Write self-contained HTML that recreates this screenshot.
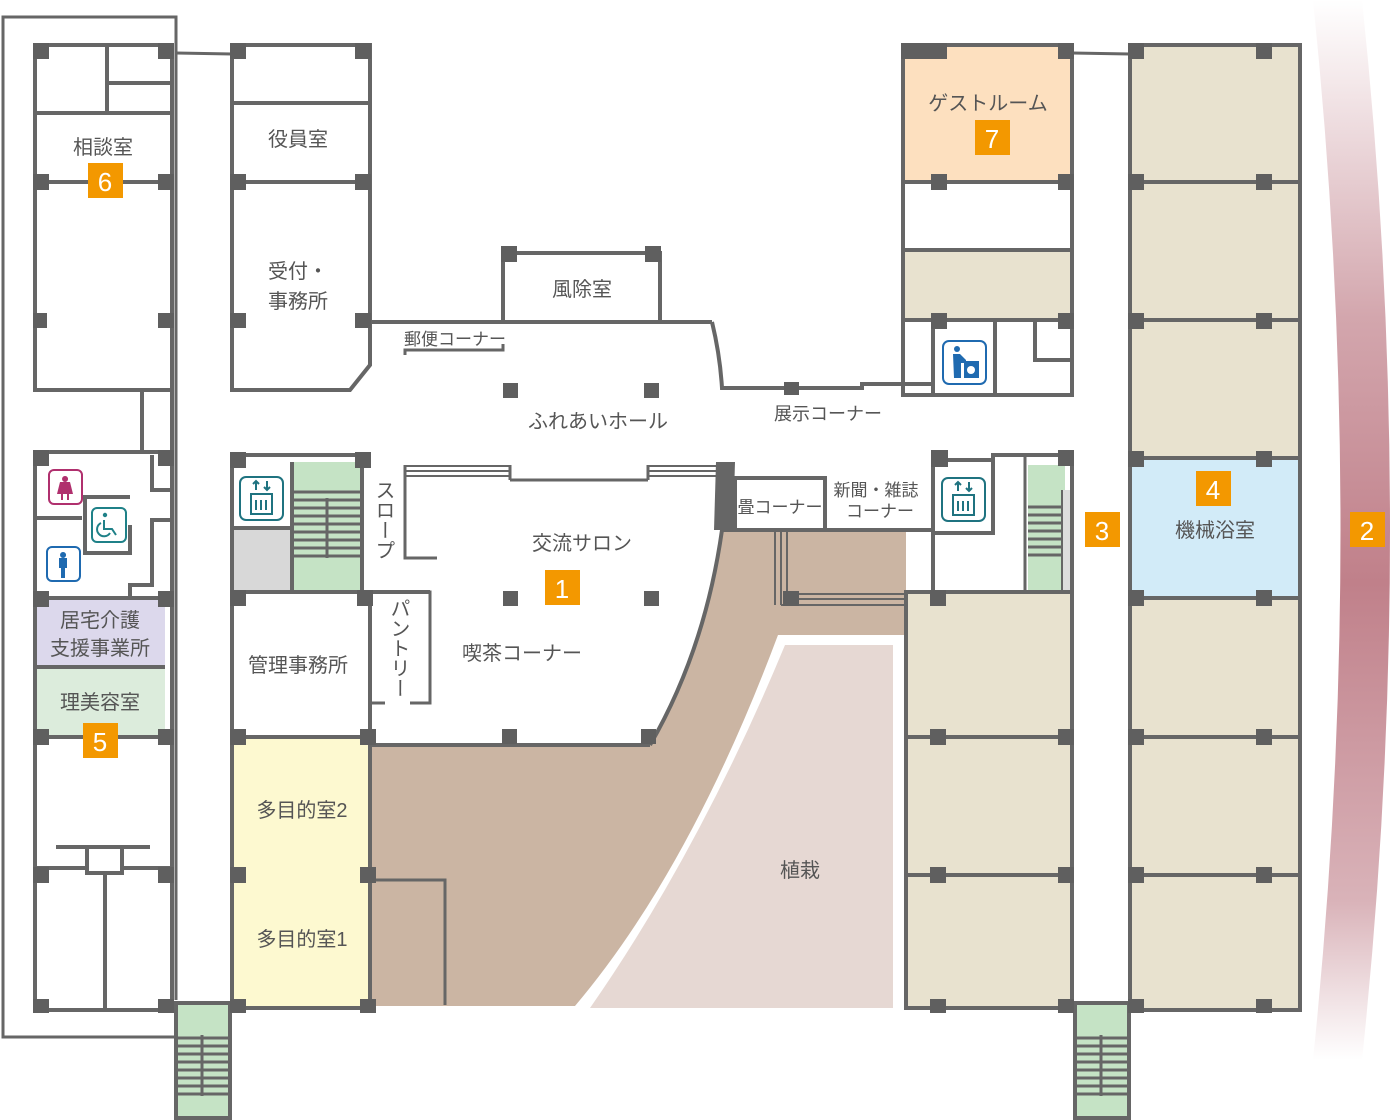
<!DOCTYPE html>
<html><head><meta charset="utf-8"><style>
html,body{margin:0;padding:0;background:#fff}
svg{display:block}
text{font-family:"Liberation Sans","Noto Sans CJK JP",sans-serif;fill:#555;font-size:20px}
.b{fill:#fff;font-size:26px;font-family:"Liberation Sans",sans-serif}
</style></head><body>
<svg width="1400" height="1120" viewBox="0 0 1400 1120" xmlns="http://www.w3.org/2000/svg">
<defs>
<linearGradient id="g" x1="0" y1="0" x2="0" y2="1">
<stop offset="0" stop-color="#c0808a" stop-opacity="0"/>
<stop offset="0.3" stop-color="#c0808a" stop-opacity="0.7"/>
<stop offset="0.55" stop-color="#c0808a" stop-opacity="1"/>
<stop offset="0.85" stop-color="#c0808a" stop-opacity="0.6"/>
<stop offset="1" stop-color="#c0808a" stop-opacity="0"/>
</linearGradient>
</defs>
<path d="M1313,0 Q1368,530 1313,1060 L1362,1060 Q1418,530 1362,0 Z" fill="url(#g)"/>

<g stroke="#666" fill="none" stroke-width="4">
<polyline points="176,1000 176,17 3,17 3,1037 176,1037" stroke-width="3"/>
<line x1="176" y1="53" x2="232" y2="54" stroke-width="3"/>
</g>

<rect x="35" y="598" width="130" height="69" fill="#dcd8ec"/>
<rect x="35" y="667" width="130" height="70" fill="#dcecdc"/>
<rect x="232" y="737" width="138" height="270" fill="#fdf9d0"/>
<rect x="232" y="528" width="60" height="64" fill="#d8d8d8"/>
<rect x="292" y="462" width="70" height="130" fill="#c5e3c5"/>
<path d="M722,530 L906,530 L906,635 L778,635 Q690,870 575,1006 L370,1006 L370,745 L650,745 Q705,650 722,530 Z" fill="#cbb5a3"/>
<path d="M785,645 L893,645 L893,1008 L590,1008 Q700,850 785,645 Z" fill="#e6d8d3"/>
<rect x="903" y="45" width="169" height="137" fill="#fde0bf"/>
<rect x="903" y="250" width="169" height="70" fill="#e8e2cf"/>
<rect x="906" y="592" width="166" height="416" fill="#e8e2cf"/>
<rect x="1130" y="45" width="170" height="965" fill="#e8e2cf"/>
<rect x="1130" y="458" width="170" height="140" fill="#d2ebf8"/>
<rect x="1028" y="465" width="37" height="125" fill="#c5e3c5"/>
<rect x="1062" y="490" width="10" height="100" fill="#ddd"/>
<rect x="176" y="1003" width="54" height="115" fill="#c5e3c5"/>
<rect x="1075" y="1003" width="54" height="115" fill="#c5e3c5"/>

<g stroke="#666" fill="none" stroke-width="4">
<rect x="35" y="45" width="137" height="345"/>
<line x1="35" y1="113" x2="172" y2="113"/>
<line x1="35" y1="182" x2="172" y2="182"/>
<line x1="107" y1="45" x2="107" y2="113"/>
<line x1="107" y1="83" x2="172" y2="83"/>
<line x1="142" y1="390" x2="142" y2="452"/>
<line x1="172" y1="390" x2="172" y2="1010"/>
<rect x="35" y="452" width="137" height="558"/>
<line x1="35" y1="518" x2="82" y2="518"/>
<polyline points="130,497 85,497 85,553 130,553 130,525"/>
<polyline points="152,455 152,490 172,490"/>
<polyline points="172,520 152,520 152,585 130,585 130,598"/>
<line x1="35" y1="598" x2="165" y2="598"/>
<line x1="35" y1="667" x2="165" y2="667"/>
<line x1="35" y1="737" x2="172" y2="737"/>
<line x1="56" y1="847" x2="150" y2="847"/>
<rect x="87" y="847" width="35" height="26"/>
<line x1="35" y1="868" x2="87" y2="868"/>
<line x1="122" y1="868" x2="172" y2="868"/>
<line x1="105" y1="873" x2="105" y2="1010"/>

<polyline points="232,45 370,45 370,365 350,390 232,390 232,45"/>
<line x1="232" y1="103" x2="370" y2="103"/>
<line x1="232" y1="182" x2="370" y2="182"/>
<polyline points="232,455 370,455"/>
<line x1="232" y1="455" x2="232" y2="1010"/>
<line x1="232" y1="1008" x2="370" y2="1008"/>
<line x1="370" y1="592" x2="370" y2="1008"/>
<line x1="362" y1="455" x2="362" y2="592"/>
<line x1="292" y1="462" x2="292" y2="592"/>
<line x1="232" y1="528" x2="292" y2="528"/>
<line x1="232" y1="592" x2="430" y2="592"/>
<line x1="232" y1="737" x2="370" y2="737"/>
<polyline points="378,592 430,592 430,703 410,703" stroke-width="3"/>
<line x1="370" y1="703" x2="385" y2="703" stroke-width="3"/>
<polyline points="370,880 445,880 445,1005" stroke-width="3"/>
<line x1="370" y1="745" x2="650" y2="745"/>
<path d="M650,745 Q705,650 722,530"/>
<polyline points="437,558 405,558 405,465" stroke-width="3"/>
<line x1="405" y1="466" x2="510" y2="466" stroke-width="2"/>
<line x1="405" y1="471" x2="510" y2="471" stroke-width="2"/>
<line x1="405" y1="476" x2="510" y2="476" stroke-width="2"/>
<line x1="510" y1="465" x2="510" y2="480" stroke-width="3"/>
<line x1="510" y1="480" x2="648" y2="480" stroke-width="3"/>
<line x1="648" y1="465" x2="648" y2="480" stroke-width="3"/>
<line x1="648" y1="466" x2="718" y2="466" stroke-width="2"/>
<line x1="648" y1="471" x2="718" y2="471" stroke-width="2"/>
<line x1="648" y1="476" x2="718" y2="476" stroke-width="2"/>
<line x1="370" y1="322" x2="712" y2="322"/>
<rect x="503" y="253" width="157" height="69"/>
<path d="M712,322 Q720,355 722,388 L862,388 L862,384 L933,384"/>
<polyline points="405,355 405,350 503,350 503,344" stroke-width="3"/>
<polyline points="735,530 735,478 825,478 825,530"/>
<line x1="722" y1="530" x2="933" y2="530"/>
<line x1="775" y1="532" x2="775" y2="605" stroke-width="2"/>
<line x1="781" y1="532" x2="781" y2="605" stroke-width="2"/>
<line x1="787" y1="532" x2="787" y2="598" stroke-width="2"/>
<line x1="787" y1="594" x2="906" y2="594" stroke-width="2"/>
<line x1="787" y1="599" x2="906" y2="599" stroke-width="2"/>
<line x1="781" y1="605" x2="906" y2="605" stroke-width="2"/>
<polyline points="933,452 933,592"/>
<polyline points="933,460 993,460 993,533 933,533"/>
<polyline points="993,460 993,455 1072,455 1072,1010"/>
<line x1="1025" y1="455" x2="1025" y2="590" stroke-width="3"/>
<line x1="1062" y1="490" x2="1062" y2="590" stroke-width="2"/>
<rect x="906" y="592" width="166" height="416"/>
<line x1="906" y1="737" x2="1072" y2="737"/>
<line x1="906" y1="875" x2="1072" y2="875"/>
<rect x="903" y="45" width="169" height="350"/>
<line x1="903" y1="182" x2="1072" y2="182"/>
<line x1="903" y1="250" x2="1072" y2="250"/>
<line x1="903" y1="320" x2="1072" y2="320"/>
<line x1="903" y1="320" x2="903" y2="384"/>
<line x1="933" y1="320" x2="933" y2="395"/>
<line x1="995" y1="320" x2="995" y2="395"/>
<polyline points="1035,320 1035,360 1072,360"/>
<line x1="1072" y1="53" x2="1130" y2="54" stroke-width="3"/>
<rect x="1130" y="45" width="170" height="965"/>
<line x1="1130" y1="182" x2="1300" y2="182"/>
<line x1="1130" y1="320" x2="1300" y2="320"/>
<line x1="1130" y1="458" x2="1300" y2="458"/>
<line x1="1130" y1="598" x2="1300" y2="598"/>
<line x1="1130" y1="737" x2="1300" y2="737"/>
<line x1="1130" y1="875" x2="1300" y2="875"/>
<rect x="176" y="1003" width="54" height="115"/>
<rect x="1075" y="1003" width="54" height="115"/>
</g>

<g stroke="#666" stroke-width="3">
<path d="M292,492H362M292,500H362M292,508H362M292,516H362M292,524H362M292,532H362M292,540H362M292,548H362M292,556H362"/>
<line x1="327" y1="498" x2="327" y2="558" stroke-width="3"/>
<path d="M1028,507H1062M1028,515H1062M1028,523H1062M1028,531H1062M1028,539H1062M1028,547H1062M1028,555H1062"/>
<path d="M178,1038H228M178,1046H228M178,1054H228M178,1062H228M178,1070H228M178,1078H228M178,1086H228M178,1094H228"/>
<line x1="202" y1="1035" x2="202" y2="1096"/>
<path d="M1077,1038H1127M1077,1046H1127M1077,1054H1127M1077,1062H1127M1077,1070H1127M1077,1078H1127M1077,1086H1127M1077,1094H1127"/>
<line x1="1101" y1="1035" x2="1101" y2="1096"/>
</g>
<path d="M716,462 L735,462 L733,530 L714,530 Z" fill="#666"/>

<g fill="#5f5f5f">
<rect x="33" y="43" width="16" height="16"/><rect x="158" y="43" width="16" height="16"/>
<rect x="33" y="174" width="16" height="16"/><rect x="158" y="174" width="16" height="16"/>
<rect x="33" y="313" width="14" height="15"/><rect x="158" y="313" width="16" height="15"/>
<rect x="33" y="450" width="16" height="16"/><rect x="158" y="450" width="16" height="16"/>
<rect x="33" y="591" width="16" height="16"/><rect x="158" y="591" width="16" height="16"/>
<rect x="33" y="729" width="16" height="16"/><rect x="158" y="729" width="16" height="16"/>
<rect x="33" y="867" width="16" height="16"/><rect x="158" y="867" width="16" height="16"/>
<rect x="33" y="999" width="16" height="14"/><rect x="158" y="999" width="16" height="14"/>
<rect x="230" y="43" width="16" height="16"/><rect x="355" y="43" width="16" height="16"/>
<rect x="230" y="174" width="16" height="16"/><rect x="355" y="174" width="16" height="16"/>
<rect x="230" y="313" width="16" height="15"/><rect x="355" y="313" width="16" height="15"/>
<rect x="230" y="452" width="16" height="16"/><rect x="355" y="452" width="16" height="16"/>
<rect x="230" y="590" width="16" height="16"/><rect x="357" y="590" width="16" height="16"/>
<rect x="230" y="729" width="16" height="16"/><rect x="360" y="729" width="16" height="16"/>
<rect x="230" y="867" width="16" height="16"/><rect x="360" y="867" width="16" height="16"/>
<rect x="230" y="999" width="16" height="14"/><rect x="360" y="999" width="16" height="14"/>
<rect x="501" y="246" width="16" height="16"/><rect x="645" y="246" width="16" height="16"/>
<rect x="503" y="383" width="15" height="15"/><rect x="644" y="383" width="15" height="15"/>
<rect x="784" y="382" width="15" height="13"/>
<rect x="503" y="591" width="15" height="15"/><rect x="644" y="591" width="15" height="15"/>
<rect x="502" y="729" width="15" height="15"/><rect x="641" y="729" width="15" height="15"/>
<rect x="783" y="591" width="16" height="15"/>
<rect x="931" y="450" width="17" height="17"/><rect x="1058" y="450" width="16" height="16"/>
<rect x="930" y="590" width="16" height="16"/>
<rect x="930" y="729" width="16" height="16"/><rect x="1058" y="729" width="16" height="16"/>
<rect x="930" y="867" width="16" height="16"/><rect x="1058" y="867" width="16" height="16"/>
<rect x="930" y="999" width="16" height="14"/><rect x="1058" y="999" width="16" height="14"/>
<rect x="901" y="43" width="46" height="16"/><rect x="1058" y="43" width="16" height="16"/>
<rect x="931" y="174" width="16" height="16"/><rect x="1058" y="174" width="16" height="16"/>
<rect x="931" y="313" width="16" height="16"/><rect x="1058" y="313" width="16" height="16"/>
<rect x="1128" y="43" width="16" height="16"/><rect x="1256" y="43" width="16" height="16"/>
<rect x="1128" y="174" width="16" height="16"/><rect x="1256" y="174" width="16" height="16"/>
<rect x="1128" y="313" width="16" height="16"/><rect x="1256" y="313" width="16" height="16"/>
<rect x="1128" y="451" width="16" height="16"/><rect x="1256" y="451" width="16" height="16"/>
<rect x="1128" y="590" width="16" height="16"/><rect x="1256" y="590" width="16" height="16"/>
<rect x="1128" y="729" width="16" height="16"/><rect x="1256" y="729" width="16" height="16"/>
<rect x="1128" y="867" width="16" height="16"/><rect x="1256" y="867" width="16" height="16"/>
<rect x="1128" y="999" width="16" height="14"/><rect x="1256" y="999" width="16" height="14"/>
</g>

<g fill="#fff" stroke-width="2">
<rect x="49" y="470" width="33" height="34" rx="5" stroke="#b0306e"/>
<path d="M65,476a3,3 0 1,0 0.1,0Z M60,482h10l3,12h-4v6h-2v-6h-4v6h-2v-6h-4z" fill="#b0306e" stroke="none"/>
<rect x="47" y="547" width="33" height="34" rx="5" stroke="#1f6ab0"/>
<path d="M63,552a3,3 0 1,0 0.1,0Z M59,558h8v10h-2v10h-4v-10h-2z" fill="#1f6ab0" stroke="none"/>
<rect x="92" y="508" width="34" height="34" rx="5" stroke="#1f8188"/>
<circle cx="105" cy="515" r="2.2" fill="#1f8188" stroke="none"/>
<path d="M104,520v9h8l4,6M101,523a7,7 0 1,0 9,10" fill="none" stroke="#1f8188"/>
<rect x="240" y="477" width="43" height="43" rx="6" stroke="#1f7380"/>
<rect x="251" y="494" width="21" height="20" fill="none" stroke="#1f7380"/>
<path d="M256,490v-9m-3,3l3,-3l3,3M267,481v9m-3,-3l3,3l3,-3M256,500v10M261,500v10M266,500v10" fill="none" stroke="#1f7380"/>
<rect x="942" y="478" width="43" height="43" rx="6" stroke="#1f7380"/>
<rect x="953" y="495" width="21" height="20" fill="none" stroke="#1f7380"/>
<path d="M958,491v-9m-3,3l3,-3l3,3M969,482v9m-3,-3l3,3l3,-3M958,501v10M963,501v10M968,501v10" fill="none" stroke="#1f7380"/>
<rect x="943" y="341" width="43" height="43" rx="6" stroke="#1f6ab0"/>
<circle cx="957" cy="349" r="3" fill="#1f6ab0" stroke="none"/>
<path d="M953,354h7l6,6v3h-5v15h-7z" fill="#1f6ab0" stroke="none"/>
<rect x="964" y="361" width="15" height="17" fill="#1f6ab0" stroke="none"/>
<circle cx="971" cy="370" r="4" fill="#fff" stroke="none"/>
</g>

<text x="103" y="154" text-anchor="middle">相談室</text>
<text x="298" y="146" text-anchor="middle">役員室</text>
<text x="298" y="278" text-anchor="middle">受付・</text>
<text x="298" y="308" text-anchor="middle">事務所</text>
<text x="582" y="296" text-anchor="middle">風除室</text>
<text x="455" y="345" text-anchor="middle" style="font-size:17px">郵便コーナー</text>
<text x="598" y="428" text-anchor="middle">ふれあいホール</text>
<text x="828" y="420" text-anchor="middle" style="font-size:18px">展示コーナー</text>
<text x="582" y="550" text-anchor="middle">交流サロン</text>
<text x="522" y="660" text-anchor="middle">喫茶コーナー</text>
<text x="298" y="672" text-anchor="middle">管理事務所</text>
<text x="302" y="817" text-anchor="middle">多目的室2</text>
<text x="302" y="946" text-anchor="middle">多目的室1</text>
<text x="800" y="877" text-anchor="middle">植栽</text>
<text x="780" y="513" text-anchor="middle" style="font-size:17px">畳コーナー</text>
<text x="876" y="496" text-anchor="middle" style="font-size:17px">新聞・雑誌</text>
<text x="880" y="517" text-anchor="middle" style="font-size:17px">コーナー</text>
<text x="988" y="110" text-anchor="middle">ゲストルーム</text>
<text x="1215" y="537" text-anchor="middle">機械浴室</text>
<text x="100" y="627" text-anchor="middle">居宅介護</text>
<text x="100" y="655" text-anchor="middle">支援事業所</text>
<text x="100" y="709" text-anchor="middle">理美容室</text>
<text x="383" y="480" style="writing-mode:vertical-rl;font-size:20px">スロープ</text>
<text x="398" y="598" style="writing-mode:vertical-rl;font-size:20px">パントリー</text>

<g fill="#f39800">
<rect x="545" y="570" width="35" height="35"/>
<rect x="1350" y="512" width="35" height="35"/>
<rect x="1085" y="512" width="35" height="35"/>
<rect x="1196" y="471" width="35" height="35"/>
<rect x="83" y="723" width="35" height="35"/>
<rect x="88" y="163" width="35" height="35"/>
<rect x="975" y="120" width="35" height="35"/>
</g>
<text class="b" x="562" y="598" text-anchor="middle">1</text>
<text class="b" x="1367" y="540" text-anchor="middle">2</text>
<text class="b" x="1102" y="540" text-anchor="middle">3</text>
<text class="b" x="1213" y="499" text-anchor="middle">4</text>
<text class="b" x="100" y="751" text-anchor="middle">5</text>
<text class="b" x="105" y="191" text-anchor="middle">6</text>
<text class="b" x="992" y="148" text-anchor="middle">7</text>
</svg>
</body></html>
